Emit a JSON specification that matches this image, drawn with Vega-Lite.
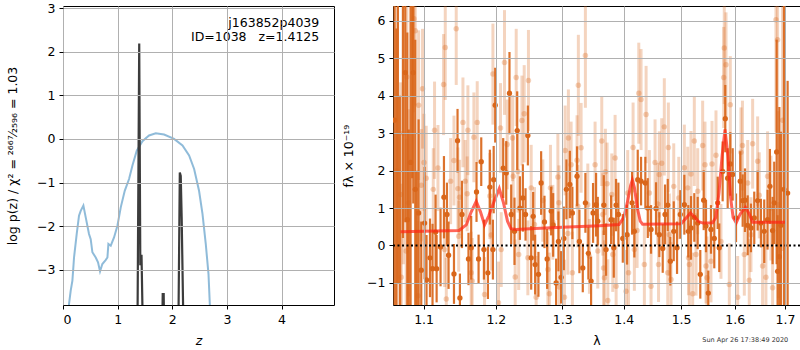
{
"$schema": "https://vega.github.io/schema/vega-lite/v6.json",
"padding": {"left": 6, "top": 1, "right": 0, "bottom": 0},
"background": "white",
"bounds": "flush",
"spacing": 59,
"config": {
  "font": "DejaVu Sans",
  "view": {"stroke": "black", "strokeWidth": 1},
  "axis": {"labelFont": "DejaVu Sans", "labelFontSize": 12.5, "labelColor": "black", "titleFont": "DejaVu Sans", "titleFontSize": 12.5, "titleFontWeight": "normal", "titleColor": "black", "tickColor": "black", "tickSize": 4, "labelPadding": 4, "domain": false, "grid": true, "gridColor": "#b0b0b0", "gridWidth": 1, "gridOpacity": 1}
},
"datasets": {
  "prior": [
    {"z":0.09,"v":-4.3},{"z":0.11,"v":-3.79},{"z":0.141,"v":-3.48},{"z":0.172,"v":-3.25},{"z":0.202,"v":-2.72},{"z":0.251,"v":-2.18},{"z":0.293,"v":-1.76},{"z":0.324,"v":-1.65},{"z":0.373,"v":-1.53},{"z":0.416,"v":-1.80},{"z":0.476,"v":-2.18},{"z":0.507,"v":-2.30},{"z":0.538,"v":-2.60},{"z":0.599,"v":-2.72},{"z":0.641,"v":-2.83},{"z":0.678,"v":-3.04},{"z":0.72,"v":-2.87},{"z":0.78,"v":-2.78},{"z":0.813,"v":-2.72},{"z":0.831,"v":-2.41},{"z":0.874,"v":-2.45},{"z":0.934,"v":-2.26},{"z":0.996,"v":-1.99},{"z":1.057,"v":-1.57},{"z":1.13,"v":-1.19},{"z":1.209,"v":-0.92},{"z":1.271,"v":-0.61},{"z":1.35,"v":-0.27},{"z":1.454,"v":-0.05},{"z":1.575,"v":0.08},{"z":1.698,"v":0.13},{"z":1.85,"v":0.10},{"z":2.033,"v":0.0},{"z":2.187,"v":-0.15},{"z":2.308,"v":-0.38},{"z":2.40,"v":-0.69},{"z":2.49,"v":-1.19},{"z":2.553,"v":-1.72},{"z":2.613,"v":-2.41},{"z":2.663,"v":-3.10},{"z":2.687,"v":-3.79},{"z":2.70,"v":-4.3}
  ],
  "pz": [
    {"z":0.5,"v":-8},{"z":1.355,"v":-6},{"z":1.395,"v":2.19},{"z":1.415,"v":-2.9},{"z":1.437,"v":-2.66},{"z":1.47,"v":-5},{"z":1.80,"v":-6},{"z":1.825,"v":-3.56},{"z":1.843,"v":-3.56},{"z":1.865,"v":-6},{"z":2.10,"v":-6},{"z":2.138,"v":-0.77},{"z":2.155,"v":-0.85},{"z":2.172,"v":-1.8},{"z":2.20,"v":-4.0},{"z":2.25,"v":-8}
  ],
  "dark": [
    {"w":1.0622,"f":3.35,"e":5.0},{"w":1.0645,"f":-2.2,"e":8},{"w":1.0665,"f":7.0,"e":8},{"w":1.0690,"f":-2.0,"e":6},{"w":1.0730,"f":7.2,"e":7},{"w":1.0760,"f":4.62,"e":4.0},{"w":1.0786,"f":0.69,"e":5.0},{"w":1.0805,"f":-1.9,"e":5},{"w":1.0829,"f":2.22,"e":4.5},{"w":1.0850,"f":6.8,"e":5},{"w":1.0864,"f":4.62,"e":3.5},{"w":1.0890,"f":1.5,"e":4},{"w":1.0910,"f":-1.8,"e":3.8},{"w":1.0934,"f":0.87,"e":2.5},
    {"w":1.0969,"f":-0.66,"e":1.3},{"w":1.1013,"f":0.60,"e":1.5},{"w":1.1039,"f":-0.92,"e":1.2},{"w":1.1085,"f":-0.33,"e":1.05},{"w":1.1119,"f":-0.62,"e":1.2},{"w":1.1160,"f":0.36,"e":1.0},{"w":1.1174,"f":-0.62,"e":0.9},{"w":1.1227,"f":-0.04,"e":1.05},{"w":1.1273,"f":1.29,"e":1.1},{"w":1.1314,"f":0.83,"e":0.85},{"w":1.1336,"f":-0.26,"e":0.9},{"w":1.1410,"f":-0.76,"e":0.8},{"w":1.1459,"f":2.80,"e":0.85},{"w":1.1492,"f":-1.40,"e":0.65},{"w":1.1520,"f":0.83,"e":0.9},{"w":1.1611,"f":-0.36,"e":0.7},{"w":1.1649,"f":-0.06,"e":0.85},{"w":1.1724,"f":1.43,"e":0.8},{"w":1.1753,"f":-0.36,"e":0.65},{"w":1.1791,"f":2.24,"e":0.65},{"w":1.1829,"f":-0.11,"e":0.8},{"w":1.1886,"f":-0.73,"e":0.7},{"w":1.1914,"f":1.56,"e":1.0},{"w":1.1958,"f":-0.11,"e":0.8},{"w":1.1969,"f":1.76,"e":0.9},{"w":1.1991,"f":3.75,"e":1.0},{"w":1.2107,"f":2.07,"e":0.8},{"w":1.2151,"f":1.94,"e":0.85},{"w":1.2199,"f":4.07,"e":1.1},{"w":1.2224,"f":0.83,"e":0.8},
    {"w":1.2273,"f":0.38,"e":0.9},{"w":1.2313,"f":3.07,"e":1.05},{"w":1.2353,"f":1.00,"e":0.85},{"w":1.2397,"f":1.27,"e":0.9},{"w":1.2437,"f":0.83,"e":0.7},{"w":1.2472,"f":2.94,"e":0.8},{"w":1.2522,"f":-0.33,"e":0.85},{"w":1.2552,"f":0.78,"e":0.65},{"w":1.2582,"f":-0.51,"e":0.8},{"w":1.2632,"f":-0.77,"e":0.6},{"w":1.2673,"f":1.67,"e":0.85},{"w":1.2724,"f":0.63,"e":0.7},{"w":1.2765,"f":-0.36,"e":0.8},{"w":1.2827,"f":0.92,"e":0.65},{"w":1.2858,"f":0.55,"e":0.85},{"w":1.2904,"f":-1.00,"e":0.65},{"w":1.2940,"f":0.11,"e":0.8},{"w":1.2982,"f":-0.85,"e":0.7},{"w":1.3024,"f":0.19,"e":0.85},{"w":1.3065,"f":1.50,"e":0.8},{"w":1.3119,"f":1.63,"e":0.9},{"w":1.3159,"f":0.87,"e":0.7},{"w":1.3233,"f":1.85,"e":0.8},{"w":1.3271,"f":0.11,"e":0.85},{"w":1.3325,"f":-0.60,"e":0.65},{"w":1.3367,"f":1.14,"e":0.8},{"w":1.3415,"f":-0.21,"e":0.7},{"w":1.3459,"f":-0.95,"e":0.65},{"w":1.3491,"f":0.87,"e":0.8},{"w":1.3540,"f":1.09,"e":0.85},{"w":1.3568,"f":0.65,"e":0.65},{"w":1.3667,"f":1.08,"e":0.8},{"w":1.3704,"f":-0.11,"e":0.7},{"w":1.3787,"f":0.69,"e":0.65},{"w":1.3832,"f":-0.06,"e":0.8},{"w":1.3870,"f":1.08,"e":0.7},{"w":1.3909,"f":0.83,"e":0.85},{"w":1.3983,"f":0.19,"e":0.65},{"w":1.4055,"f":0.29,"e":0.8},{"w":1.4140,"f":1.14,"e":0.85},{"w":1.4179,"f":0.38,"e":0.7},{"w":1.4237,"f":1.76,"e":0.8},{"w":1.4294,"f":1.72,"e":0.65},{"w":1.4368,"f":1.67,"e":0.7},{"w":1.4410,"f":1.00,"e":0.8},{"w":1.4467,"f":0.43,"e":0.65},{"w":1.4554,"f":0.99,"e":0.7},{"w":1.4612,"f":0.29,"e":0.6},{"w":1.4672,"f":-0.08,"e":0.65},{"w":1.4713,"f":0.83,"e":0.8},{"w":1.4761,"f":1.08,"e":0.7},{"w":1.4807,"f":-0.42,"e":0.65},{"w":1.4868,"f":0.38,"e":0.8},{"w":1.4927,"f":-0.06,"e":0.7},{"w":1.4986,"f":0.83,"e":0.65},{"w":1.5059,"f":1.09,"e":0.8},{"w":1.5131,"f":0.38,"e":0.7},{"w":1.5180,"f":0.47,"e":0.85},{"w":1.5241,"f":0.75,"e":0.65},{"w":1.5303,"f":0.60,"e":0.7},{"w":1.5351,"f":-0.77,"e":0.65},{"w":1.5414,"f":1.21,"e":0.8},{"w":1.5457,"f":0.52,"e":0.7},{"w":1.5500,"f":-1.27,"e":0.6},{"w":1.5550,"f":0.43,"e":0.65},{"w":1.5612,"f":0.19,"e":0.8},{"w":1.5676,"f":1.14,"e":0.7},{"w":1.5706,"f":-0.06,"e":0.65},{"w":1.5770,"f":1.98,"e":0.8},{"w":1.5820,"f":3.39,"e":0.9},{"w":1.5866,"f":1.80,"e":0.8},{"w":1.5916,"f":2.18,"e":0.85},{"w":1.5962,"f":1.90,"e":0.7},{"w":1.6026,"f":0.74,"e":0.65},{"w":1.6108,"f":1.72,"e":0.8},{"w":1.6155,"f":1.20,"e":0.7},{"w":1.6200,"f":1.21,"e":0.85},{"w":1.6253,"f":0.54,"e":0.8},{"w":1.6317,"f":0.47,"e":0.65},{"w":1.6382,"f":0.74,"e":0.7},{"w":1.6449,"f":1.20,"e":0.8},{"w":1.6514,"f":0.60,"e":0.65},{"w":1.6580,"f":0.38,"e":0.85},{"w":1.6647,"f":0.69,"e":0.8},{"w":1.6694,"f":1.58,"e":1.0},{"w":1.6748,"f":0.40,"e":0.9},{"w":1.6781,"f":1.14,"e":1.1},{"w":1.6830,"f":2.5,"e":3.0},{"w":1.6849,"f":-0.69,"e":1.5},{"w":1.6885,"f":-0.3,"e":4.0},{"w":1.6917,"f":0.54,"e":2.5},{"w":1.6979,"f":1.5,"e":6.0},{"w":1.7054,"f":1.4,"e":3.0}
  ],
  "light": [
    {"w":1.0650,"f":2.0,"e":4.5},{"w":1.0699,"f":1.36,"e":3.0},{"w":1.0708,"f":-0.85,"e":2.5},{"w":1.0735,"f":3.0,"e":3.5},{"w":1.0772,"f":-0.15,"e":3.0},{"w":1.0780,"f":4.5,"e":2.5},{"w":1.0802,"f":1.14,"e":2.5},{"w":1.0873,"f":6.06,"e":2.5},{"w":1.0890,"f":5.74,"e":2.0},{"w":1.0926,"f":-1.34,"e":2.0},{"w":1.0934,"f":3.75,"e":2.0},{"w":1.0969,"f":1.61,"e":1.5},{"w":1.0986,"f":4.19,"e":1.6},{"w":1.1005,"f":2.22,"e":1.3},{"w":1.1035,"f":1.80,"e":1.4},
    {"w":1.1129,"f":1.50,"e":1.1},{"w":1.1146,"f":3.08,"e":1.3},{"w":1.1192,"f":2.07,"e":1.15},{"w":1.1268,"f":4.30,"e":1.35},{"w":1.1282,"f":-0.11,"e":1.0},{"w":1.1291,"f":5.29,"e":1.4},{"w":1.1305,"f":-1.43,"e":1.1},{"w":1.1364,"f":1.72,"e":1.15},{"w":1.1410,"f":2.27,"e":1.2},{"w":1.1441,"f":5.79,"e":1.5},{"w":1.1464,"f":1.52,"e":1.1},{"w":1.1475,"f":0.25,"e":0.95},{"w":1.1487,"f":1.29,"e":1.0},{"w":1.1534,"f":3.29,"e":1.2},{"w":1.1566,"f":1.72,"e":1.1},{"w":1.1593,"f":1.38,"e":1.0},{"w":1.1603,"f":3.08,"e":1.2},{"w":1.1649,"f":-0.73,"e":1.1},{"w":1.1663,"f":-0.95,"e":1.15},{"w":1.1687,"f":2.89,"e":1.2},{"w":1.1734,"f":3.29,"e":1.1},{"w":1.1838,"f":-1.31,"e":1.0},{"w":1.1914,"f":1.32,"e":1.15},{"w":1.1933,"f":0.28,"e":0.95},{"w":1.1958,"f":4.58,"e":1.35},{"w":1.2039,"f":-1.53,"e":1.1},{"w":1.2068,"f":3.14,"e":1.2},{"w":1.2078,"f":-0.11,"e":1.0},{"w":1.2126,"f":4.89,"e":1.4},{"w":1.2166,"f":2.70,"e":1.2},{"w":1.2243,"f":2.87,"e":1.15},{"w":1.2254,"f":1.85,"e":1.1},{"w":1.2283,"f":-0.84,"e":1.0},{"w":1.2298,"f":4.49,"e":1.3},{"w":1.2323,"f":1.98,"e":1.1},{"w":1.2335,"f":-0.24,"e":0.95},{"w":1.2383,"f":3.34,"e":1.2},{"w":1.2417,"f":3.52,"e":1.3},{"w":1.2472,"f":-0.33,"e":1.0},{"w":1.2481,"f":4.41,"e":1.35},{"w":1.2522,"f":1.54,"e":1.15},{"w":1.2572,"f":0.56,"e":1.0},{"w":1.2597,"f":-1.38,"e":1.1},{"w":1.2699,"f":1.20,"e":1.1},{"w":1.2776,"f":-0.64,"e":1.0},{"w":1.2800,"f":-1.29,"e":1.1},{"w":1.2816,"f":1.54,"e":1.15},{"w":1.2853,"f":0.62,"e":1.0},{"w":1.2931,"f":1.83,"e":1.15},{"w":1.2947,"f":1.14,"e":1.0},{"w":1.2956,"f":-1.11,"e":1.1},{"w":1.3034,"f":-1.38,"e":1.0},{"w":1.3045,"f":2.54,"e":1.2},{"w":1.3087,"f":0.32,"e":1.1},{"w":1.3096,"f":2.87,"e":1.3},{"w":1.3139,"f":2.16,"e":1.15},{"w":1.3159,"f":-0.73,"e":1.1},{"w":1.3233,"f":2.28,"e":1.2},{"w":1.3245,"f":1.05,"e":1.1},{"w":1.3254,"f":4.28,"e":1.35},{"w":1.3298,"f":2.61,"e":1.2},{"w":1.3367,"f":5.08,"e":1.4},{"w":1.3406,"f":1.09,"e":1.1},{"w":1.3432,"f":-0.29,"e":1.0},{"w":1.3524,"f":2.16,"e":1.15},{"w":1.3568,"f":-0.15,"e":1.0},{"w":1.3633,"f":2.79,"e":1.2},{"w":1.3650,"f":0.83,"e":1.1},{"w":1.3663,"f":-0.60,"e":1.0},{"w":1.3677,"f":-0.86,"e":1.0},{"w":1.3693,"f":1.97,"e":1.15},{"w":1.3721,"f":1.65,"e":1.1},{"w":1.3733,"f":-1.47,"e":1.1},{"w":1.3799,"f":1.36,"e":1.1},{"w":1.3815,"f":-0.24,"e":1.0},{"w":1.3854,"f":2.34,"e":1.15},{"w":1.3871,"f":-1.09,"e":1.1},{"w":1.4038,"f":-1.22,"e":1.1},{"w":1.4066,"f":1.40,"e":1.15},{"w":1.4080,"f":-0.73,"e":1.0},{"w":1.4157,"f":2.62,"e":1.2},{"w":1.4179,"f":-0.11,"e":1.1},{"w":1.4226,"f":0.40,"e":1.0},{"w":1.4255,"f":4.07,"e":1.35},{"w":1.4294,"f":3.90,"e":1.35},{"w":1.4351,"f":-0.51,"e":1.1},{"w":1.4381,"f":3.50,"e":1.3},{"w":1.4438,"f":1.40,"e":1.15},{"w":1.4467,"f":-1.09,"e":1.1},{"w":1.4537,"f":2.22,"e":1.15},{"w":1.4584,"f":1.11,"e":1.1},{"w":1.4598,"f":-0.51,"e":1.0},{"w":1.4612,"f":1.90,"e":1.15},{"w":1.4654,"f":2.20,"e":1.2},{"w":1.4700,"f":3.17,"e":1.3},{"w":1.4761,"f":-0.73,"e":1.1},{"w":1.4772,"f":2.62,"e":1.2},{"w":1.4789,"f":0.29,"e":1.1},{"w":1.4819,"f":-0.91,"e":1.0},{"w":1.4868,"f":1.58,"e":1.15},{"w":1.4958,"f":1.27,"e":1.1},{"w":1.5059,"f":2.08,"e":1.15},{"w":1.5120,"f":1.54,"e":1.1},{"w":1.5135,"f":-0.33,"e":1.0},{"w":1.5150,"f":-0.51,"e":1.1},{"w":1.5180,"f":1.91,"e":1.15},{"w":1.5211,"f":-1.29,"e":1.1},{"w":1.5241,"f":2.79,"e":1.2},{"w":1.5272,"f":-0.24,"e":1.1},{"w":1.5303,"f":1.45,"e":1.15},{"w":1.5395,"f":2.67,"e":1.2},{"w":1.5438,"f":2.16,"e":1.15},{"w":1.5457,"f":-0.55,"e":1.0},{"w":1.5475,"f":-0.86,"e":1.1},{"w":1.5550,"f":-0.42,"e":1.1},{"w":1.5569,"f":2.18,"e":1.15},{"w":1.5644,"f":2.41,"e":1.2},{"w":1.5738,"f":0.11,"e":1.0},{"w":1.5790,"f":4.49,"e":1.35},{"w":1.5801,"f":5.28,"e":1.5},{"w":1.5834,"f":4.83,"e":1.4},{"w":1.5897,"f":-1.04,"e":1.1},{"w":1.5916,"f":3.76,"e":1.3},{"w":1.6058,"f":-1.38,"e":1.1},{"w":1.6122,"f":2.49,"e":1.2},{"w":1.6151,"f":2.67,"e":1.2},{"w":1.6187,"f":-0.24,"e":1.1},{"w":1.6253,"f":1.67,"e":1.15},{"w":1.6284,"f":-0.93,"e":1.1},{"w":1.6317,"f":0.29,"e":1.0},{"w":1.6350,"f":2.72,"e":1.2},{"w":1.6449,"f":2.25,"e":1.2},{"w":1.6481,"f":1.34,"e":1.15},{"w":1.6547,"f":-0.55,"e":1.1},{"w":1.6614,"f":-0.85,"e":1.15},{"w":1.6647,"f":1.85,"e":1.2},{"w":1.6714,"f":1.00,"e":1.4},{"w":1.6748,"f":-1.13,"e":1.5},{"w":1.6816,"f":6.03,"e":3.0},{"w":1.6849,"f":5.50,"e":3.0},{"w":1.6866,"f":1.09,"e":2.5},{"w":1.6951,"f":3.35,"e":3.5}
  ],
  "model": [
    {"w":1.0699,"f":0.37},{"w":1.148,"f":0.40},{"w":1.158,"f":0.55},{"w":1.165,"f":0.9},{"w":1.172,"f":1.18},{"w":1.178,"f":0.9},{"w":1.1838,"f":0.55},{"w":1.190,"f":0.8},{"w":1.198,"f":1.2},{"w":1.205,"f":1.52},{"w":1.211,"f":1.15},{"w":1.217,"f":0.65},{"w":1.222,"f":0.45},{"w":1.230,"f":0.43},{"w":1.25,"f":0.45},{"w":1.30,"f":0.49},{"w":1.36,"f":0.53},{"w":1.392,"f":0.56},{"w":1.400,"f":0.75},{"w":1.406,"f":1.15},{"w":1.4115,"f":1.6},{"w":1.4145,"f":1.75},{"w":1.418,"f":1.55},{"w":1.423,"f":1.0},{"w":1.428,"f":0.65},{"w":1.432,"f":0.57},{"w":1.500,"f":0.58},{"w":1.510,"f":0.75},{"w":1.517,"f":0.87},{"w":1.523,"f":0.78},{"w":1.532,"f":0.64},{"w":1.540,"f":0.60},{"w":1.558,"f":0.61},{"w":1.564,"f":0.75},{"w":1.570,"f":1.4},{"w":1.576,"f":2.4},{"w":1.5815,"f":3.1},{"w":1.587,"f":2.4},{"w":1.592,"f":1.3},{"w":1.597,"f":0.75},{"w":1.603,"f":0.61},{"w":1.611,"f":0.85},{"w":1.621,"f":1.02},{"w":1.628,"f":0.85},{"w":1.635,"f":0.62},{"w":1.7015,"f":0.62}
  ]
},
"hconcat": [
  {
    "width": 271, "height": 299,
    "layer": [
      {"data": {"name": "prior"},
       "mark": {"type": "line", "color": "#1f77b4", "opacity": 0.5, "strokeWidth": 2, "clip": true},
       "encoding": {
         "x": {"field": "z", "type": "quantitative", "title": "z", "scale": {"domain": [0, 4.96], "nice": false, "zero": false}, "axis": {"values": [0,1,2,3,4], "titleFontStyle": "italic", "titlePadding": 9, "zindex": 1}},
         "y": {"field": "v", "type": "quantitative", "title": "log p(z) / χ² = ²⁶⁶⁷⁄₂₅₉₆ = 1.03", "scale": {"domain": [-3.81, 3.05], "nice": false, "zero": false}, "axis": {"values": [-3,-2,-1,0,1,2,3], "titlePadding": 17, "zindex": 1}}
       }},
      {"data": {"name": "pz"},
       "mark": {"type": "line", "color": "#3c3c3c", "strokeWidth": 2.2, "clip": true},
       "encoding": {
         "x": {"field": "z", "type": "quantitative", "title": "z", "scale": {"domain": [0, 4.96], "nice": false, "zero": false}},
         "y": {"field": "v", "type": "quantitative", "title": "log p(z) / χ² = ²⁶⁶⁷⁄₂₅₉₆ = 1.03", "scale": {"domain": [-3.81, 3.05], "nice": false, "zero": false}}
       }},
      {"data": {"values": [{"t": "j163852p4039"}]},
       "mark": {"type": "text", "align": "right", "baseline": "middle", "fontSize": 12.5, "color": "black"},
       "encoding": {"x": {"datum": 4.69, "type": "quantitative"}, "y": {"datum": 2.67, "type": "quantitative"}, "text": {"field": "t"}}},
      {"data": {"values": [{"t": "ID=1038\u00a0\u00a0\u00a0z=1.4125"}]},
       "mark": {"type": "text", "align": "right", "baseline": "middle", "fontSize": 12.5, "color": "black"},
       "encoding": {"x": {"datum": 4.69, "type": "quantitative"}, "y": {"datum": 2.33, "type": "quantitative"}, "text": {"field": "t"}}}
    ]
  },
  {
    "width": 407, "height": 299,
    "layer": [
      {"data": {"name": "light"},
       "mark": {"type": "errorbar", "color": "#d9661a", "opacity": 0.28, "thickness": 3, "clip": true},
       "encoding": {
         "x": {"field": "w", "type": "quantitative", "title": "λ", "scale": {"type": "log", "domain": [1.0602, 1.731], "nice": false}, "axis": {"values": [1.1,1.2,1.3,1.4,1.5,1.6,1.7], "format": ".1f", "titlePadding": 9, "zindex": 1}},
         "y": {"field": "f", "type": "quantitative", "title": "fλ × 10⁻¹⁹", "scale": {"domain": [-1.59, 6.40], "nice": false, "zero": false}, "axis": {"values": [-1,0,1,2,3,4,5,6], "titlePadding": 11, "zindex": 1, "gridOpacity": {"condition": {"test": "datum.value === 0", "value": 0}, "value": 1}}},
         "yError": {"field": "e"}
       }},
      {"data": {"name": "light"},
       "mark": {"type": "circle", "color": "#d9661a", "opacity": 0.3, "size": 30, "clip": true},
       "encoding": {
         "x": {"field": "w", "type": "quantitative", "title": "λ", "scale": {"type": "log", "domain": [1.0602, 1.731], "nice": false}},
         "y": {"field": "f", "type": "quantitative", "title": "fλ × 10⁻¹⁹", "scale": {"domain": [-1.59, 6.40], "nice": false, "zero": false}}
       }},
      {"data": {"name": "dark"},
       "mark": {"type": "errorbar", "color": "#d9661a", "opacity": 0.92, "thickness": 2.2, "clip": true},
       "encoding": {
         "x": {"field": "w", "type": "quantitative", "title": "λ", "scale": {"type": "log", "domain": [1.0602, 1.731], "nice": false}},
         "y": {"field": "f", "type": "quantitative", "title": "fλ × 10⁻¹⁹", "scale": {"domain": [-1.59, 6.40], "nice": false, "zero": false}},
         "yError": {"field": "e"}
       }},
      {"data": {"name": "dark"},
       "mark": {"type": "circle", "color": "#d9661a", "opacity": 1, "size": 28, "clip": true},
       "encoding": {
         "x": {"field": "w", "type": "quantitative", "title": "λ", "scale": {"type": "log", "domain": [1.0602, 1.731], "nice": false}},
         "y": {"field": "f", "type": "quantitative", "title": "fλ × 10⁻¹⁹", "scale": {"domain": [-1.59, 6.40], "nice": false, "zero": false}}
       }},
      {"data": {"name": "model"},
       "mark": {"type": "line", "color": "#ff2414", "opacity": 0.7, "strokeWidth": 3, "clip": true},
       "encoding": {
         "x": {"field": "w", "type": "quantitative", "title": "λ", "scale": {"type": "log", "domain": [1.0602, 1.731], "nice": false}},
         "y": {"field": "f", "type": "quantitative", "title": "fλ × 10⁻¹⁹", "scale": {"domain": [-1.59, 6.40], "nice": false, "zero": false}}
       }},
      {"data": {"values": [{"k": 0}]},
       "mark": {"type": "rule", "color": "black", "strokeDash": [2, 2.5], "strokeWidth": 2},
       "encoding": {"y": {"datum": 0, "type": "quantitative"}}},
      {"data": {"values": [{"t": "Sun Apr 26 17:38:49 2020"}]},
       "mark": {"type": "text", "align": "right", "baseline": "middle", "fontSize": 6.5, "color": "#333333"},
       "encoding": {"x": {"datum": 1.7066, "type": "quantitative"}, "y": {"datum": -2.537, "type": "quantitative"}, "text": {"field": "t"}}}
    ]
  }
]
}
